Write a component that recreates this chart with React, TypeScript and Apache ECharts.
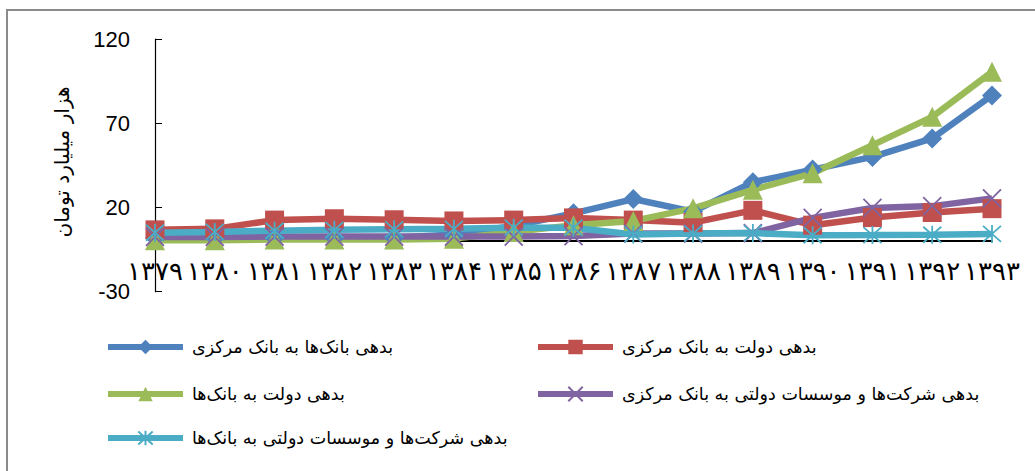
import React, { useEffect, useRef } from "react";
import * as echarts from "echarts";

const categories = ["۱۳۷۹", "۱۳۸۰", "۱۳۸۱", "۱۳۸۲", "۱۳۸۳", "۱۳۸۴", "۱۳۸۵", "۱۳۸۶", "۱۳۸۷", "۱۳۸۸", "۱۳۸۹", "۱۳۹۰", "۱۳۹۱", "۱۳۹۲", "۱۳۹۳"];

const banksToCentralBank = [2, 2, 2, 2, 2, 4, 9, 16.5, 25, 17.5, 35, 42.5, 50, 61, 86.5];
const govToCentralBank = [6.7, 7.3, 12.5, 13.3, 12.7, 12, 12.5, 13.8, 12.5, 11, 18.3, 9.5, 14, 17, 19.3];
const govToBanks = [0.5, 0.5, 1, 1, 1, 1.5, 5.5, 9.5, 12, 19.5, 30.5, 40.3, 57, 73.8, 100.5];
const firmsToCentralBank = [2.5, 2.5, 2.7, 2.7, 2.7, 2.7, 2.7, 3, 4.5, 4.5, 4.8, 13.8, 19.7, 20.8, 25.4];
const firmsToBanks = [5, 5.5, 6.2, 6.7, 7, 7.3, 8, 8, 4, 4.5, 4.8, 3.5, 3.6, 3.8, 4.3];

const seriesNames = [
  "بدهی بانک‌ها به بانک مرکزی",
  "بدهی دولت به بانک مرکزی",
  "بدهی دولت به بانک‌ها",
  "بدهی شرکت‌ها و موسسات دولتی به بانک مرکزی",
  "بدهی شرکت‌ها و موسسات دولتی به بانک‌ها",
];

const yTicks = { min: -30, max: 120, interval: 50 };
const yAxisTitle = "هزار میلیارد تومان";

const colors = ["#4F81BD", "#C0504D", "#9BBB59", "#8064A2", "#4BACC6"];
const FA = "DejaVu Sans";

export default function App() {
  const ref = useRef<HTMLDivElement>(null);
  useEffect(() => {
    const chart = echarts.init(ref.current!, null, { renderer: "svg" });
    const dataSets = [banksToCentralBank, govToCentralBank, govToBanks, firmsToCentralBank, firmsToBanks];
    const symbols = [
      "diamond",
      "rect",
      "triangle",
      "path://M1,1L17,17M17,1L1,17",
      "path://M1,1L17,17M17,1L1,17M9,0L9,18",
    ];
    const sizes = [20, 19, 20, 18, 18];
    const series = dataSets.map((d, i) => ({
      name: seriesNames[i],
      type: "line",
      data: d,
      symbol: symbols[i],
      symbolSize: sizes[i],
      showAllSymbol: true,
      lineStyle: { width: 6.5, color: colors[i] },
      itemStyle:
        i >= 3
          ? { color: colors[i], borderColor: colors[i], borderWidth: 1.8 }
          : { color: colors[i] },
      emphasis: { disabled: true },
    }));
    const legendPos = [
      { left: 105, top: 338 },
      { left: 535, top: 338 },
      { left: 105, top: 385 },
      { left: 535, top: 385 },
      { left: 105, top: 429 },
    ];
    const legends = seriesNames.map((n, i) => ({
      data: [n],
      left: legendPos[i].left,
      top: legendPos[i].top,
      itemWidth: 75,
      itemHeight: 18,
      itemGap: 0,
      padding: 0,
      lineStyle: { width: 6 },
      textStyle: { fontFamily: FA, fontSize: 17.5, color: "#000", padding: [0, 0, 0, 4] },
      selectedMode: false,
    }));
    chart.setOption({
      animation: false,
      backgroundColor: "#fff",
      grid: { left: 155, right: 43, top: 39, bottom: 179.3, containLabel: false },
      legend: legends,
      xAxis: {
        type: "category",
        data: categories,
        boundaryGap: false,
        axisLine: { onZero: true, lineStyle: { color: "#000", width: 2 } },
        axisTick: { show: false },
        axisLabel: { interval: 0, fontFamily: FA, fontSize: 26, color: "#000", margin: -34 },
        splitLine: { show: false },
      },
      yAxis: {
        type: "value",
        min: yTicks.min,
        max: yTicks.max,
        interval: yTicks.interval,
        axisLine: { show: true, onZero: false, lineStyle: { color: "#000", width: 1.2 } },
        axisTick: { show: true, inside: true, length: 7, lineStyle: { color: "#000" } },
        axisLabel: { fontFamily: "Liberation Sans", fontSize: 22, color: "#000", margin: 25 },
        splitLine: { show: false },
      },
      graphic: [
        {
          type: "rect",
          silent: true,
          z: -10,
          shape: { x: 7, y: 10, width: 1100, height: 600 },
          style: { fill: "none", stroke: "#8a8a8a", lineWidth: 2 },
        },
        {
          type: "text",
          x: 62,
          y: 162,
          rotation: Math.PI / 2,
          style: {
            text: yAxisTitle,
            fontFamily: FA,
            fontSize: 20,
            fill: "#000",
            align: "center",
            verticalAlign: "middle",
          },
        },
      ],
      series,
    });
    return () => chart.dispose();
  }, []);
  return (
    <div
      ref={ref}
      style={{ position: "absolute", left: 0, top: 0, width: 1035, height: 471, background: "#fff" }}
    />
  );
}
